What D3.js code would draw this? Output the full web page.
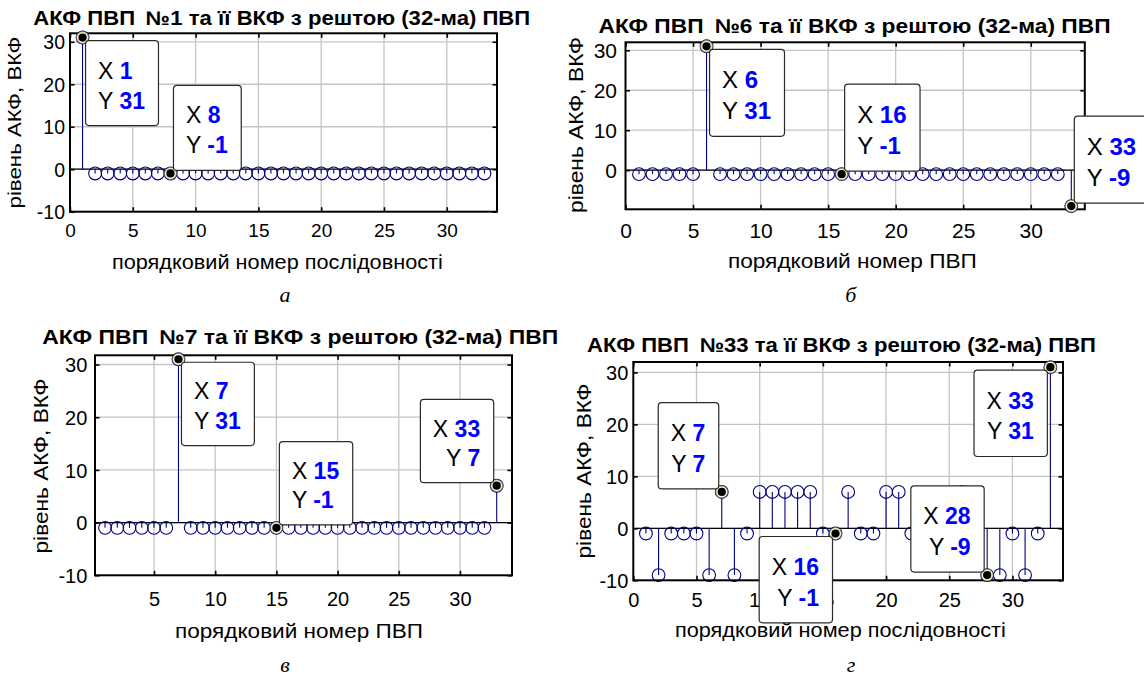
<!DOCTYPE html>
<html><head><meta charset="utf-8">
<script src="https://cdn.jsdelivr.net/npm/d3@7/dist/d3.min.js"></script>
<style>
html,body{margin:0;padding:0;background:#fff;}
svg{display:block;}
text{font-family:"Liberation Sans", Arial, Helvetica, sans-serif;}
</style></head><body>
<svg id="chart" width="1144" height="677"></svg>
<script>
// ---------------- DATA ----------------
const sequenceNumbers = [1,2,3,4,5,6,7,8,9,10,11,12,13,14,15,16,17,18,19,20,21,22,23,24,25,26,27,28,29,30,31,32,33];
const acfCcfPvp1  = [31,-1,-1,-1,-1,-1,-1,-1,-1,-1,-1,-1,-1,-1,-1,-1,-1,-1,-1,-1,-1,-1,-1,-1,-1,-1,-1,-1,-1,-1,-1,-1,-1];
const acfCcfPvp6  = [-1,-1,-1,-1,-1,31,-1,-1,-1,-1,-1,-1,-1,-1,-1,-1,-1,-1,-1,-1,-1,-1,-1,-1,-1,-1,-1,-1,-1,-1,-1,-1,-9];
const acfCcfPvp7  = [-1,-1,-1,-1,-1,-1,31,-1,-1,-1,-1,-1,-1,-1,-1,-1,-1,-1,-1,-1,-1,-1,-1,-1,-1,-1,-1,-1,-1,-1,-1,-1,7];
const acfCcfPvp33 = [-1,-9,-1,-1,-1,-9,7,-9,-1,7,7,7,7,7,-1,-1,7,-1,-1,7,7,-1,-1,-1,-1,7,-1,-9,-9,-1,-9,-1,31];

const titles = [
  "АКФ ПВП \u2009№1 та її ВКФ з рештою (32-ма) ПВП",
  "АКФ ПВП \u2009№6 та її ВКФ з рештою (32-ма) ПВП",
  "АКФ ПВП \u2009№7 та її ВКФ з рештою (32-ма) ПВП",
  "АКФ ПВП \u2009№33 та її ВКФ з рештою (32-ма) ПВП"
];
const xLabels = [
  "порядковий номер послідовності",
  "порядковий номер ПВП",
  "порядковий номер ПВП",
  "порядковий номер послідовності"
];
const yLabelText = "рівень АКФ, ВКФ";
const panelLetters = ["а", "б", "в", "г"];

const xTicksWithZero = [0,5,10,15,20,25,30];
const xTicksNoZero   = [5,10,15,20,25,30];
const yTicksFull     = [-10,0,10,20,30];
const yTicksNoMinus  = [0,10,20,30];

// data-tip positions (sequence numbers)
const tipsPvp1  = [1, 8];
const tipsPvp6  = [6, 16, 33];
const tipsPvp7  = [7, 15, 33];
const tipsPvp33 = [7, 16, 28, 33];

// ---------------- LAYOUT ----------------
const panels = [
  {values: acfCcfPvp1, tips: tipsPvp1, corners: ["br","tr"],
   L:70, R:497, T:33.3, B:211.7, xDom:[0,34], yDom:[-10,32], xTicks:xTicksWithZero, yTicks:yTicksFull,
   title:{cx:281.7, y:25, len:497, fs:19.5}, xlab:{cx:277.4, y:269, len:331, fs:20},
   ylab:{x:21, cy:122.5, len:172, fs:19}, ytl:{right:65, fs:19.5}, xtl:{y:237.3, fs:19},
   letter:{x:285, y:301.7}, tip:{fs:23, h:85}},
  {values: acfCcfPvp6, tips: tipsPvp6, corners: ["br","tr","tr"],
   L:625.5, R:1084.8, T:42.3, B:209.3, xDom:[0,34], yDom:[-9.8,32], xTicks:xTicksWithZero, yTicks:yTicksNoMinus,
   title:{cx:854.5, y:33.3, len:512, fs:20}, xlab:{cx:852.4, y:268.3, len:249, fs:21},
   ylab:{x:583.3, cy:125, len:176, fs:20}, ytl:{right:617, fs:21}, xtl:{y:238.3, fs:21},
   letter:{x:850.7, y:301.7}, tip:{fs:24, h:87}},
  {values: acfCcfPvp7, tips: tipsPvp7, corners: ["br","tr","tl"],
   L:95, R:512, T:355.3, B:575.3, xDom:[0.18,34.25], yDom:[-10,31.75], xTicks:xTicksNoZero, yTicks:yTicksFull,
   title:{cx:300.3, y:343.6, len:516, fs:20}, xlab:{cx:299, y:638, len:248, fs:20},
   ylab:{x:47.7, cy:466, len:175, fs:20}, ytl:{right:87.3, fs:20}, xtl:{y:606.3, fs:20},
   letter:{x:285, y:672}, tip:{fs:23, h:83.3}},
  {values: acfCcfPvp33, tips: tipsPvp33, corners: ["tl","bl","tl","bl"],
   L:633.3, R:1063, T:362, B:580.3, xDom:[0,34], yDom:[-10,32], xTicks:xTicksWithZero, yTicks:yTicksFull,
   title:{cx:841.5, y:352, len:509, fs:20}, xlab:{cx:840.4, y:637, len:331, fs:20},
   ylab:{x:590.7, cy:471, len:175, fs:20}, ytl:{right:628.3, fs:20}, xtl:{y:607, fs:20},
   letter:{x:851, y:672}, tip:{fs:23, h:86.3}}
];

const svg = d3.select("#chart");
svg.append("rect").attr("width",1144).attr("height",677).attr("fill","#fff");

const STEM = "#000080";
const fmt = d => String(d);

panels.forEach((p, pi) => {
  const g = svg.append("g");
  const x = d3.scaleLinear().domain(p.xDom).range([p.L, p.R]);
  const y = d3.scaleLinear().domain(p.yDom).range([p.B, p.T]);

  // grid
  const grid = g.append("g").attr("stroke","#c4c4c4").attr("stroke-width",1.3);
  p.xTicks.forEach(t => {
    if (x(t) > p.L + 1 && x(t) < p.R - 1)
      grid.append("line").attr("x1",x(t)).attr("x2",x(t)).attr("y1",p.T).attr("y2",p.B);
  });
  p.yTicks.forEach(t => {
    if (y(t) > p.T + 1 && y(t) < p.B - 1)
      grid.append("line").attr("x1",p.L).attr("x2",p.R).attr("y1",y(t)).attr("y2",y(t));
  });

  // baseline
  g.append("line").attr("x1",p.L).attr("x2",p.R).attr("y1",y(0)).attr("y2",y(0))
    .attr("stroke","#000").attr("stroke-width",1.2);

  // stems
  const pts = sequenceNumbers.map((n,i) => ({n, v:p.values[i]}));
  g.append("g").selectAll("line").data(pts).join("line")
    .attr("x1",d=>x(d.n)).attr("x2",d=>x(d.n)).attr("y1",y(0)).attr("y2",d=>y(d.v))
    .attr("stroke",STEM).attr("stroke-width",1.1);
  g.append("g").selectAll("circle").data(pts).join("circle")
    .attr("cx",d=>x(d.n)).attr("cy",d=>y(d.v)).attr("r",6.4)
    .attr("fill","none").attr("stroke",STEM).attr("stroke-width",1.1);

  // tick marks inside on all four sides
  const tk = 4.5;
  const styleAxis = sel => { sel.select(".domain").remove(); sel.selectAll("line").attr("stroke","#000").attr("stroke-width",1.6); sel.selectAll("text").remove(); };
  g.append("g").attr("transform",`translate(0,${p.B})`).call(d3.axisBottom(x).tickValues(p.xTicks).tickSize(-tk)).call(styleAxis);
  g.append("g").attr("transform",`translate(0,${p.T})`).call(d3.axisTop(x).tickValues(p.xTicks).tickSize(-tk)).call(styleAxis);
  g.append("g").attr("transform",`translate(${p.L},0)`).call(d3.axisLeft(y).tickValues(p.yTicks).tickSize(-tk)).call(styleAxis);
  g.append("g").attr("transform",`translate(${p.R},0)`).call(d3.axisRight(y).tickValues(p.yTicks).tickSize(-tk)).call(styleAxis);

  // frame
  g.append("rect").attr("x",p.L).attr("y",p.T).attr("width",p.R-p.L).attr("height",p.B-p.T)
    .attr("fill","none").attr("stroke","#000").attr("stroke-width",2);

  // tick labels
  const xa = g.append("g").attr("transform",`translate(0,${p.B})`)
    .call(d3.axisBottom(x).tickValues(p.xTicks).tickSize(0).tickFormat(fmt));
  xa.select(".domain").remove();
  xa.attr("font-family",null).attr("font-size",null);
  xa.selectAll("text").attr("y",p.xtl.y - p.B).attr("dy",null)
    .attr("font-size",p.xtl.fs).attr("fill","#000");

  const ya = g.append("g").attr("transform",`translate(${p.L},0)`)
    .call(d3.axisLeft(y).tickValues(p.yTicks).tickSize(0).tickPadding(p.L - p.ytl.right).tickFormat(fmt));
  ya.select(".domain").remove();
  ya.attr("font-family",null).attr("font-size",null);
  ya.selectAll("text").attr("dy","0.36em").attr("font-size",p.ytl.fs).attr("fill","#000");

  // title
  g.append("text").attr("x",p.title.cx).attr("y",p.title.y).attr("text-anchor","middle")
    .attr("font-weight","bold").attr("font-size",p.title.fs).style("white-space","pre")
    .attr("textLength",p.title.len).attr("lengthAdjust","spacingAndGlyphs").text(titles[pi]);

  // x label
  g.append("text").attr("x",p.xlab.cx).attr("y",p.xlab.y).attr("text-anchor","middle")
    .attr("font-size",p.xlab.fs).attr("textLength",p.xlab.len).attr("lengthAdjust","spacingAndGlyphs")
    .text(xLabels[pi]);

  // y label
  g.append("text").attr("transform",`translate(${p.ylab.x},${p.ylab.cy}) rotate(-90)`)
    .attr("text-anchor","middle").attr("font-size",p.ylab.fs)
    .attr("textLength",p.ylab.len).attr("lengthAdjust","spacingAndGlyphs").text(yLabelText);

  // panel letter
  g.append("text").attr("x",p.letter.x).attr("y",p.letter.y).attr("text-anchor","middle")
    .style("font-family",'"Liberation Serif","Times New Roman",serif').attr("font-style","italic")
    .attr("font-size",22).text(panelLetters[pi]);

  // data tips
  p.tips.forEach((n, ti) => {
    const v = p.values[sequenceNumbers.indexOf(n)];
    const px = x(n), py = y(v);
    g.append("circle").attr("cx",px).attr("cy",py).attr("r",6).attr("fill","#fbf6c4").attr("stroke","#6e6a50").attr("stroke-width",0.8);
    g.append("circle").attr("cx",px).attr("cy",py).attr("r",4.1).attr("fill","#000");
  });
  p.tips.forEach((n, ti) => {
    const v = p.values[sequenceNumbers.indexOf(n)];
    const px = x(n), py = y(v);
    const corner = p.corners[ti];
    const tg = g.append("g");
    const rect = tg.append("rect");
    const fs = p.tip.fs, h = p.tip.h;
    const l1 = tg.append("text").attr("font-size",fs).style("white-space","pre");
    l1.append("tspan").attr("fill","#000").text("X ");
    l1.append("tspan").attr("font-weight","bold").attr("fill","#0000ff").text(String(n));
    const l2 = tg.append("text").attr("font-size",fs).style("white-space","pre");
    l2.append("tspan").attr("fill","#000").text("Y ");
    l2.append("tspan").attr("font-weight","bold").attr("fill","#0000ff").text(String(v));
    const padL = 12.5, padR = 13.5;
    const tw = Math.max(l1.node().getComputedTextLength(), l2.node().getComputedTextLength());
    const w = tw + padL + padR;
    const right = corner[1] === "r";
    const below = corner[0] === "b";
    const bx = right ? px + 3 : px - 3 - w;
    const by = below ? py + 3 : py - 3 - h;
    rect.attr("x",bx).attr("y",by).attr("width",w).attr("height",h).attr("rx",3.5)
      .attr("fill","#fff").attr("stroke","#2a2a2a").attr("stroke-width",1.2);
    const b1 = by + h * 0.447, b2 = by + h * 0.80;
    if (right) {
      l1.attr("x",bx + padL).attr("y",b1);
      l2.attr("x",bx + padL).attr("y",b2);
    } else {
      l1.attr("x",bx + w - padR).attr("y",b1).attr("text-anchor","end");
      l2.attr("x",bx + w - padR).attr("y",b2).attr("text-anchor","end");
    }
  });
});
</script>
</body></html>
